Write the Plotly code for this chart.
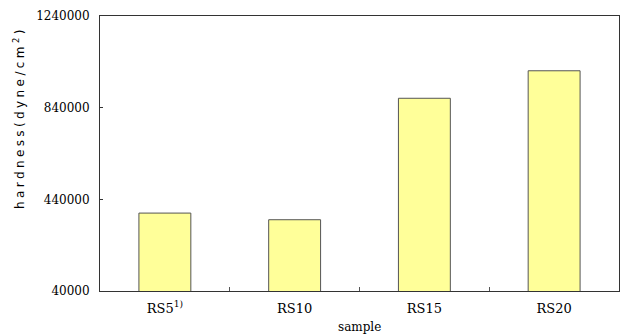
import plotly.graph_objects as go

categories = ["RS5<sup>1)</sup>", "RS10", "RS15", "RS20"]
hardness = [380000, 351000, 881000, 1001000]
y_ticks = [40000, 440000, 840000, 1240000]

serif = "DejaVu Serif"
sans = "DejaVu Sans"

fig = go.Figure(
    go.Bar(
        x=categories,
        y=hardness,
        marker=dict(color="#FFFF99", line=dict(color="#555555", width=1)),
        width=0.4,
    )
)

# the page body adds an 8px offset, so the figure is sized to the visible area
fig.update_layout(
    width=633,
    height=326,
    margin=dict(l=92, r=22, t=8, b=43),
    paper_bgcolor="white",
    plot_bgcolor="white",
    showlegend=False,
    font=dict(family=serif, size=12, color="black"),
)

fig.update_xaxes(
    type="category",
    automargin=False,
    showline=True,
    linecolor="#333333",
    linewidth=1,
    mirror=True,
    ticks="inside",
    tickson="boundaries",
    ticklen=4,
    tickcolor="#555555",
    tickfont=dict(size=13, family=serif),
    ticklabelstandoff=5,
    showgrid=False,
)

fig.update_yaxes(
    range=[40000, 1240000],
    tickvals=y_ticks,
    ticktext=[str(v) for v in y_ticks],
    automargin=False,
    showline=True,
    linecolor="#333333",
    linewidth=1,
    mirror=True,
    ticks="inside",
    ticklen=3,
    tickcolor="#333333",
    tickfont=dict(size=12, family=serif),
    ticklabelstandoff=7,
    showgrid=False,
    zeroline=False,
)

fig.add_annotation(
    text="sample",
    xref="paper", yref="paper", x=0.5, y=0,
    xanchor="center", yanchor="middle", yshift=-36,
    showarrow=False,
    font=dict(size=12, family=serif),
)

fig.add_annotation(
    text='<span style="letter-spacing:3.4px">hardness(dyne/cm<sup>2</sup>)</span>',
    xref="paper", yref="paper", x=0, y=1,
    xanchor="center", yanchor="middle", xshift=-81, yshift=-102,
    textangle=-90,
    showarrow=False,
    font=dict(size=12, family=sans),
)

fig.write_html("out.html")
